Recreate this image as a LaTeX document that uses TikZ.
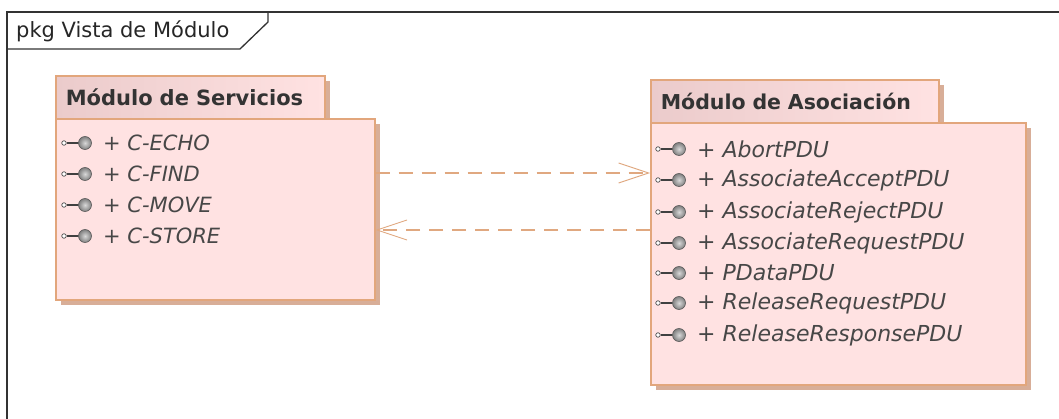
\documentclass[tikz,border=0pt]{standalone}
\usepackage{fontspec}
\setmainfont{DejaVu Sans}
\usetikzlibrary{arrows.meta,shadows}
\definecolor{pkgfill}{HTML}{FFE2E2}
\definecolor{pkgtab}{HTML}{EBCBCB}
\definecolor{pkgline}{HTML}{E2A67C}
\definecolor{pkgshade}{HTML}{D8AE98}
\definecolor{dep}{HTML}{E0A880}
\tikzset{
	pkgbox/.style={draw=pkgline, line width=1.6pt, fill=pkgfill, anchor=north west, inner sep=0pt,
		drop shadow={shadow xshift=5pt, shadow yshift=-5pt, fill=pkgshade, opacity=1}},
	pkgtitle/.style={pkgbox, left color=pkgtab, right color=pkgfill, font=\fontsize{\titlesize}{24}\selectfont\bfseries,
		text=black!80, align=left, text depth=0pt},
	item/.style={anchor=west, inner sep=0pt, font=\fontsize{\itemsize}{24}\selectfont\itshape, text=black!72},
	ball/.style={circle, draw=black!65, line width=0.6pt, inner color=black!15, outer color=black!50, minimum size=13pt, inner sep=0pt},
	tip/.style={circle, draw=black!70, fill=white, line width=0.7pt, minimum size=4.5pt, inner sep=0pt},
	usage/.style={draw=dep, line width=1.1pt, dash pattern=on 14pt off 9pt, -{Straight Barb[length=30pt,width=20pt,line width=0.9pt]}}
}
\def\lollipop(#1,#2)#3#4{
	\node[tip] (#3tip) at (#1, #2) {};
	\node[ball] (#3ball) at (#1+21, #2) {};
	\draw[line width=1.1pt, color=black!75] (#3tip) -- (#3ball);
	\node[item] (#3) at (#1+39, #2) {+ #4};
}

\begin{document}
\begin{tikzpicture}[x=1pt, y=-1pt]
	%%%%% FRAME %%%%%
	\useasboundingbox (0, 0) rectangle (1059, 419);
	\fill[white] (0, 0) rectangle (1059, 419);

	\draw[line width=1.3pt, color=black!80] (7, 419) -- (7, 12) -- (1059, 12);
	\draw[line width=1.3pt, color=black!80] (7, 49) -- (240, 49) -- (268, 22) -- (268, 12);
	\node[anchor=west, inner sep=0pt, font=\fontsize{21}{24}\selectfont, text=black!85] (frametitle) at (16, 31) {pkg Vista de Módulo};

	%%%%% SERVICIOS %%%%%
	\def\itemsize{21}
	\def\titlesize{21}
	\node[pkgtitle, minimum width=269pt, minimum height=43pt, text width=269pt-20pt] (svctab) at (55, 75) {Módulo de Servicios};
	\node[pkgbox, minimum width=319pt, minimum height=181pt] (svc) at (55, 118) {};

	\lollipop(64, 143){echo}{C-ECHO}
	\lollipop(64, 174){find}{C-FIND}
	\lollipop(64, 205){move}{C-MOVE}
	\lollipop(64, 236){store}{C-STORE}

	%%%%% ASOCIACION %%%%%
	\def\itemsize{22}
	\def\titlesize{20.5}
	\node[pkgtitle, minimum width=288pt, minimum height=43pt, text width=288pt-20pt] (asctab) at (650, 79) {Módulo de Asociación};
	\node[pkgbox, minimum width=375pt, minimum height=262pt] (asc) at (650, 122) {};

	\lollipop(658, 149){abort}{AbortPDU}
	\lollipop(658, 180){accept}{AssociateAcceptPDU}
	\lollipop(658, 212){reject}{AssociateRejectPDU}
	\lollipop(658, 243){request}{AssociateRequestPDU}
	\lollipop(658, 273){pdata}{PDataPDU}
	\lollipop(658, 303){relreq}{ReleaseRequestPDU}
	\lollipop(658, 335){relres}{ReleaseResponsePDU}

	%%%%% DEPENDENCIES %%%%%
	\coordinate (svcout) at (svc.east |- 0, 173);
	\coordinate (ascin) at (asc.west |- 0, 173);
	\coordinate (ascout) at (asc.west |- 0, 230);
	\coordinate (svcin) at (svc.east |- 0, 230);
	\draw[usage] (svcout) -- (ascin);
	\draw[usage] (ascout) -- (svcin);
\end{tikzpicture}
\end{document}
